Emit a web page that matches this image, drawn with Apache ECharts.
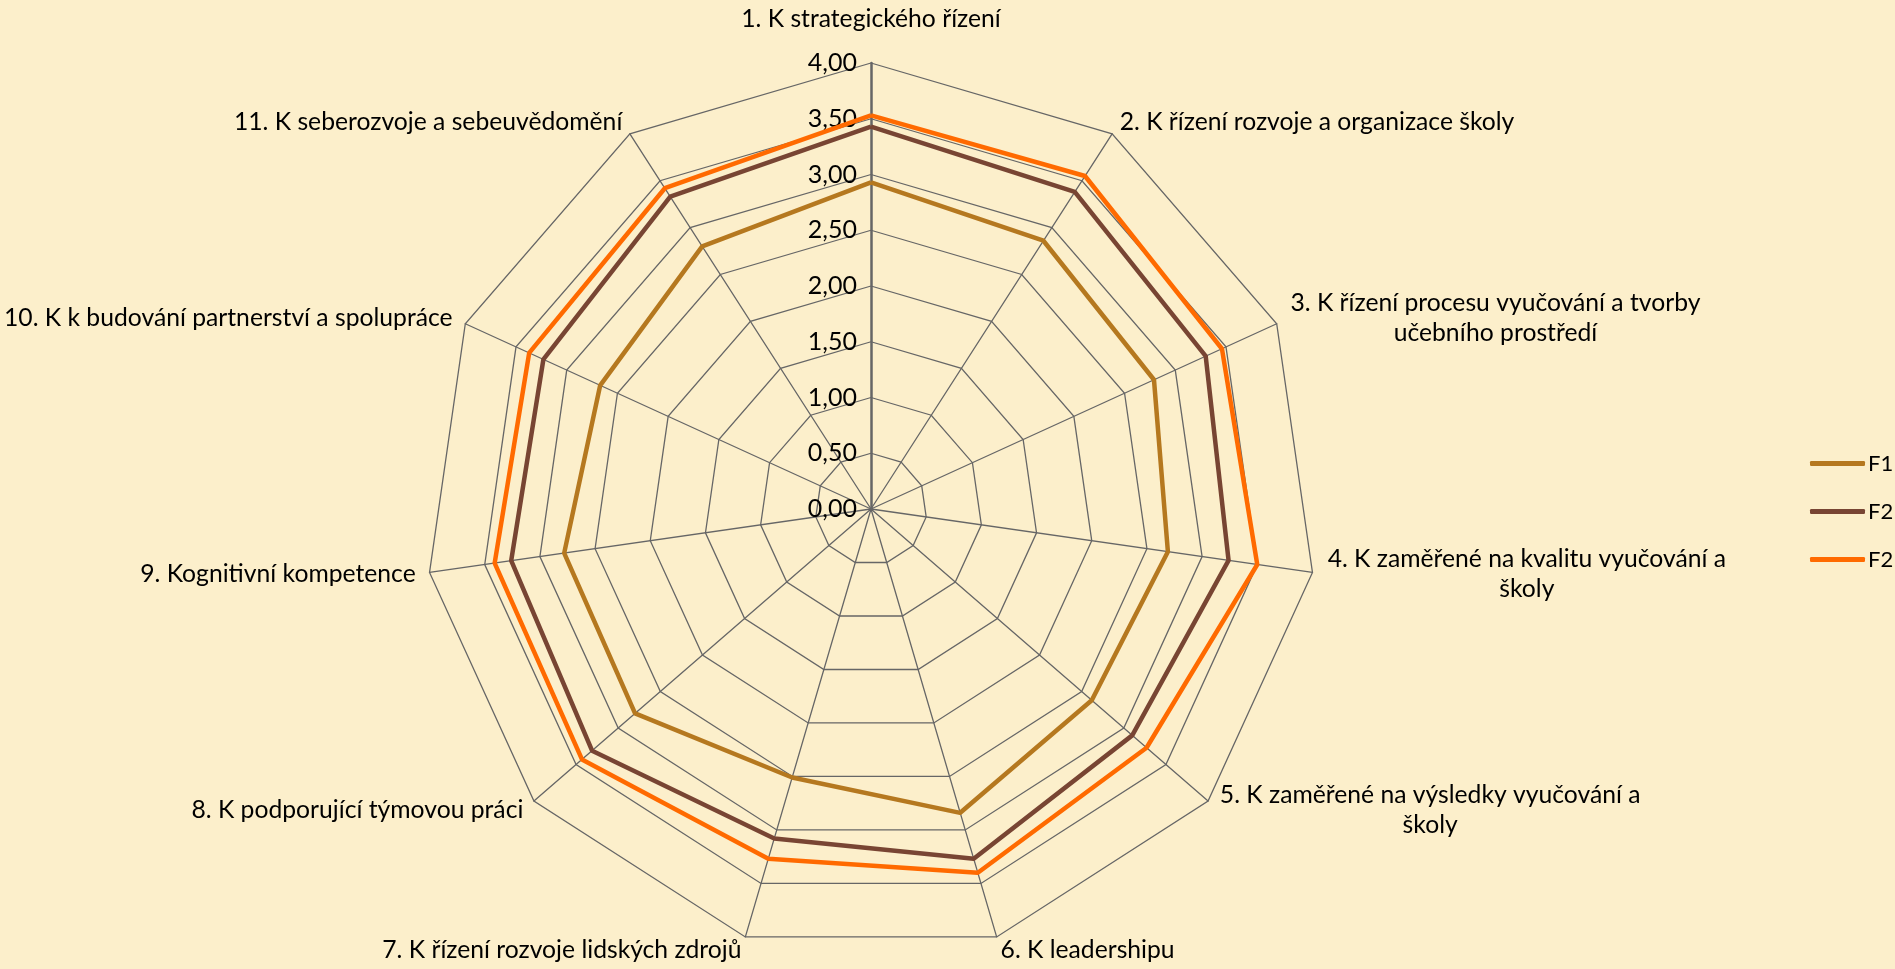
<!DOCTYPE html>
<html>
<head>
<meta charset="utf-8">
<script src="https://cdn.jsdelivr.net/npm/echarts@6/dist/echarts.min.js"></script>
<style>
  html, body { margin: 0; padding: 0; background: #fcefcb; }
  #chart { width: 1895px; height: 969px; }
</style>
</head>
<body>
<div id="chart"></div>
<script>
// kompetence (osy), hodnoty
var categories = [
  "1. K strategického řízení",
  "2. K řízení rozvoje a organizace školy",
  "3. K řízení procesu vyučování a tvorby\nučebního prostředí",
  "4. K zaměřené na kvalitu vyučování a\nškoly",
  "5. K zaměřené na výsledky vyučování a\nškoly",
  "6. K leadershipu",
  "7. K řízení rozvoje lidských zdrojů",
  "8. K podporující týmovou práci",
  "9. Kognitivní kompetence",
  "10. K k budování partnerství a spolupráce",
  "11. K seberozvoje a sebeuvědomění"
];
var seriesNames = ["F1", "F2", "F2 "];
var f1  = [2.93, 2.86, 2.79, 2.69, 2.62, 2.84, 2.51, 2.80, 2.78, 2.67, 2.80];
var f2a = [3.43, 3.38, 3.30, 3.24, 3.10, 3.27, 3.08, 3.31, 3.26, 3.23, 3.33];
var f2b = [3.53, 3.55, 3.46, 3.50, 3.27, 3.40, 3.27, 3.43, 3.41, 3.37, 3.42];
var axisMax = 4;
var axisSteps = 8;   // 0,00 .. 4,00 po 0,50

var colors = ["#b5781f", "#784533", "#ff6a00"];
var FONT = "Lato, 'Noto Sans', sans-serif";
var NAME_SIZE = 24.7;

// radar kreslí proti směru hodinek -> osy 1, 11, 10, ... 2
var order = [0];
for (var k = categories.length - 1; k >= 1; k--) order.push(k);
function reorder(a) { return order.map(function (i) { return a[i]; }); }

// víceřádkové popisky: druhý řádek vystředěný pod prvním
var ctx = document.createElement("canvas").getContext("2d");
ctx.font = NAME_SIZE + "px Lato";
var rich = { top: { lineHeight: 42, verticalAlign: "top", fontSize: NAME_SIZE, color: "#000" } };
var nameFmt = {};
categories.forEach(function (c, i) {
  if (c.indexOf("\n") < 0) return;
  var lines = c.split("\n");
  var w = Math.max.apply(null, lines.map(function (l) { return ctx.measureText(l).width; }));
  rich["m" + i] = { width: Math.ceil(w) + 2, align: "center", fontSize: NAME_SIZE, color: "#000", lineHeight: 30 };
  nameFmt[c] = lines.map(function (l) { return "{m" + i + "|" + l + "}"; }).join("\n");
});

var indicators = reorder(categories).map(function (c, i) {
  var ind = { name: c, max: axisMax, min: 0 };
  if (i === 0) {
    ind.axisLabel = {
      show: true, fontSize: 25, color: "#000", fontFamily: FONT, margin: 14,
      formatter: function (v) { return v.toFixed(2).replace(".", ","); }
    };
    ind.axisLine = { lineStyle: { color: "#666", width: 2.5 } };
  }
  return ind;
});

var chart = echarts.init(document.getElementById("chart"));
chart.setOption({
  backgroundColor: "#fcefcb",
  animation: false,
  textStyle: { fontFamily: FONT },
  legend: {
    orient: "vertical",
    left: 1805, top: 447,
    icon: "roundRect",
    itemWidth: 55, itemHeight: 5, itemGap: 25,
    textStyle: { fontSize: 22, color: "#000", lineHeight: 23, fontFamily: FONT, padding: [0, 0, 0, -2] },
    data: seriesNames
  },
  radar: {
    center: [871, 509],
    radius: 446,
    startAngle: 90,
    splitNumber: axisSteps,
    shape: "polygon",
    nameGap: 14,
    axisName: {
      color: "#000", fontSize: NAME_SIZE, fontFamily: FONT, lineHeight: 30,
      formatter: function (name) {
        if (name === categories[0]) return "{top|" + name + "}";
        return nameFmt[name] || name;
      },
      rich: rich
    },
    axisLine: { lineStyle: { color: "#666", width: 1.3 } },
    splitLine: { lineStyle: { color: "#666", width: 1.3 } },
    splitArea: { show: false },
    axisLabel: { show: false },
    axisTick: { show: false },
    indicator: indicators
  },
  series: [{
    type: "radar",
    symbol: "none",
    lineStyle: { width: 4.5 },
    data: [
      { name: seriesNames[0], value: reorder(f1),  lineStyle: { color: colors[0], width: 4.5 }, itemStyle: { color: colors[0] } },
      { name: seriesNames[1], value: reorder(f2a), lineStyle: { color: colors[1], width: 4.5 }, itemStyle: { color: colors[1] } },
      { name: seriesNames[2], value: reorder(f2b), lineStyle: { color: colors[2], width: 4.5 }, itemStyle: { color: colors[2] } }
    ]
  }]
});
</script>
</body>
</html>
